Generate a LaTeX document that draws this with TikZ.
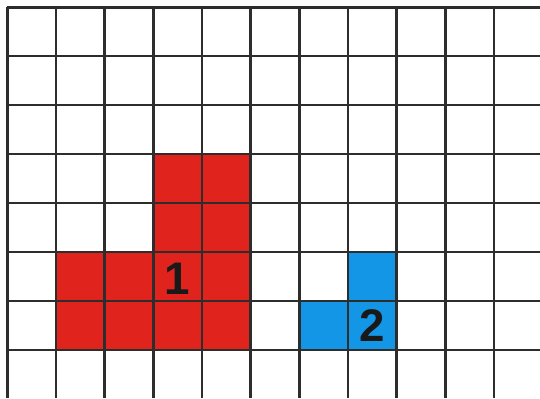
\documentclass[tikz,border=0pt]{standalone}
\usepackage{fontspec}
\setmainfont{Liberation Sans}
\usepackage{tikz}
\usepackage{xcolor}
\definecolor{cellred}{RGB}{225,35,30}
\definecolor{cellblue}{RGB}{20,150,230}
\definecolor{gridgray}{RGB}{45,45,45}

\begin{document}
\begin{tikzpicture}[
    x=0.9734cm, y=0.9792cm,
    gridline/.style={draw=gridgray, line width=1.4pt},
    redcell/.style={fill=cellred},
    bluecell/.style={fill=cellblue},
    cellnum/.style={font=\fontsize{26}{26}\selectfont\bfseries, text=black!90, inner sep=0pt}
]
\useasboundingbox (-0.15,0.149) rectangle (10.945,-7.98);

% shaded areas
\fill[redcell] (3,-3) rectangle (5,-5);
\fill[redcell] (1,-5) rectangle (5,-7);
\fill[bluecell] (7,-5) rectangle (8,-6);
\fill[bluecell] (6,-6) rectangle (8,-7);

% grid
\foreach \i in {0,...,10}
    \draw[gridline] (\i,0) -- (\i,-7.98);
\foreach \j in {0,...,7}
    \draw[gridline] (0,-\j) -- (10.945,-\j);

\node[cellnum] (one) at (3.5,-5.55) {1};
\node[cellnum] (two) at (7.5,-6.5) {2};

\end{tikzpicture}
\end{document}
